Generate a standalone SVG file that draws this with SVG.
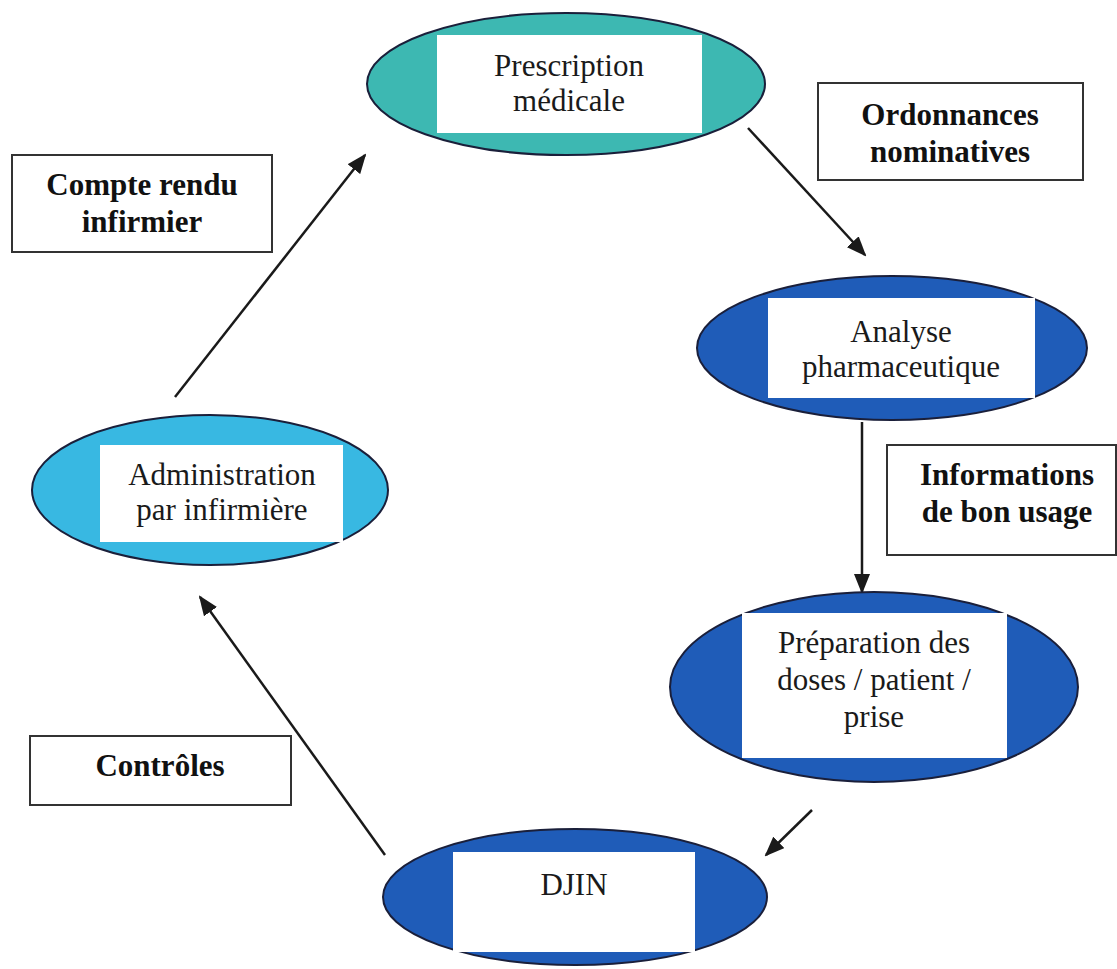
<svg xmlns="http://www.w3.org/2000/svg" width="1117" height="969" viewBox="0 0 1117 969">
<style>
.ell{stroke:#1a1f3a;stroke-width:2}
.inner{fill:#ffffff}
.nt{font-family:"Liberation Serif","Times New Roman",serif;font-size:31px;fill:#1a1a1a;text-anchor:middle}
.lb{fill:#ffffff;stroke:#333333;stroke-width:2}
.lt{font-family:"Liberation Serif","Times New Roman",serif;font-size:31px;font-weight:bold;fill:#111111;text-anchor:middle}
.conn{stroke:#1a1a1a;stroke-width:2.5;fill:none;marker-end:url(#ah)}
</style>
<defs>
<marker id="ah" viewBox="0 0 20 16" refX="18" refY="8" markerWidth="20" markerHeight="16" markerUnits="userSpaceOnUse" orient="auto">
<path d="M0,0 L20,8 L0,16 Z" fill="#1a1a1a"/>
</marker>
</defs>
<rect width="1117" height="969" fill="#ffffff"/>
<g id="connectors">
<line class="conn" x1="175" y1="397" x2="365" y2="155"/>
<line class="conn" x1="748" y1="128" x2="865" y2="255"/>
<line class="conn" x1="862" y1="422" x2="862" y2="592"/>
<line class="conn" x1="812" y1="810" x2="766" y2="855"/>
<line class="conn" x1="385" y1="855" x2="200" y2="597"/>
</g>
<g id="prescription">
<ellipse class="ell" cx="566" cy="84" rx="199" ry="71" fill="#3db8b2"/>
<rect class="inner" x="437" y="35" width="265" height="98"/>
<text class="nt" x="569" y="76">Prescription</text>
<text class="nt" x="569" y="111">médicale</text>
</g>
<g id="analyse">
<ellipse class="ell" cx="892" cy="348" rx="195" ry="72" fill="#1f5cb8"/>
<rect class="inner" x="768" y="298" width="267" height="100"/>
<text class="nt" x="901" y="342">Analyse</text>
<text class="nt" x="901" y="377">pharmaceutique</text>
</g>
<g id="preparation">
<ellipse class="ell" cx="874" cy="687" rx="204" ry="95" fill="#1f5cb8"/>
<rect class="inner" x="742" y="613" width="265" height="145"/>
<text class="nt" x="874" y="653">Préparation des</text>
<text class="nt" x="874" y="690">doses / patient /</text>
<text class="nt" x="874" y="727">prise</text>
</g>
<g id="djin">
<ellipse class="ell" cx="575" cy="897" rx="192" ry="68" fill="#1f5cb8"/>
<rect class="inner" x="453" y="852" width="242" height="100"/>
<text class="nt" x="574" y="895">DJIN</text>
</g>
<g id="administration">
<ellipse class="ell" cx="210" cy="490" rx="178" ry="75" fill="#38b8e2"/>
<rect class="inner" x="100" y="445" width="243" height="97"/>
<text class="nt" x="222" y="485">Administration</text>
<text class="nt" x="222" y="520">par infirmière</text>
</g>
<g id="label-compte-rendu">
<rect class="lb" x="12" y="155" width="260" height="97"/>
<text class="lt" x="142" y="195">Compte rendu</text>
<text class="lt" x="142" y="232">infirmier</text>
</g>
<g id="label-ordonnances">
<rect class="lb" x="818" y="83" width="265" height="97"/>
<text class="lt" x="950" y="125">Ordonnances</text>
<text class="lt" x="950" y="162">nominatives</text>
</g>
<g id="label-informations">
<rect class="lb" x="887" y="445" width="229" height="110"/>
<text class="lt" x="1007" y="485">Informations</text>
<text class="lt" x="1007" y="522">de bon usage</text>
</g>
<g id="label-controles">
<rect class="lb" x="30" y="736" width="261" height="69"/>
<text class="lt" x="160" y="776">Contrôles</text>
</g>
</svg>
